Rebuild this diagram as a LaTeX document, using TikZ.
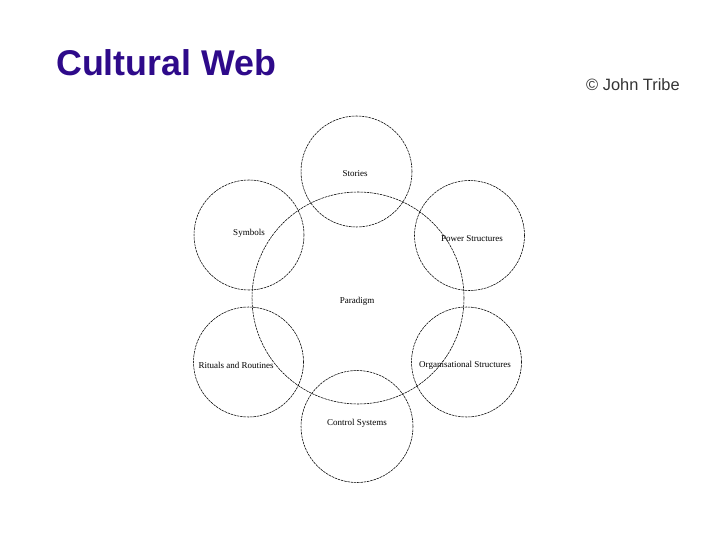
\documentclass[tikz,border=0pt]{standalone}
\usepackage{fontspec}
\setmainfont{Liberation Serif}
\newfontfamily\arialfont{Liberation Sans}
\definecolor{titleblue}{HTML}{2E0A8A}
\definecolor{credgray}{HTML}{333333}
\begin{document}
\begin{tikzpicture}[x=1pt,y=-1pt,
  ring/.style={draw=black,line width=0.55pt,dash pattern=on 2.5pt off 0.8pt},
  lbl/.style={font=\fontsize{9}{10}\selectfont,inner sep=0pt}]
\useasboundingbox (0,0) rectangle (720,540);
% title and credit
\node[anchor=base west,inner sep=0pt,text=titleblue,font=\arialfont\bfseries\fontsize{35.8}{38}\selectfont] (title) at (56,76) {Cultural Web};
\node[anchor=base west,inner sep=0pt,text=credgray,font=\arialfont\fontsize{16.4}{18}\selectfont] (credit) at (586,91) {\textcopyright\ John Tribe};
% circles
\node[ring,circle,minimum size=212pt,inner sep=0pt] (paradigm) at (358,298) {};
\node[ring,circle,minimum size=111pt,inner sep=0pt] (stories) at (356.5,171.5) {};
\node[ring,circle,minimum size=110pt,inner sep=0pt] (symbols) at (249,235) {};
\node[ring,circle,minimum size=110pt,inner sep=0pt] (power) at (469.5,235.5) {};
\node[ring,circle,minimum size=110pt,inner sep=0pt] (rituals) at (248.5,362) {};
\node[ring,circle,minimum size=110pt,inner sep=0pt] (org) at (466.5,362) {};
\node[ring,circle,minimum size=112pt,inner sep=0pt] (control) at (357,426.5) {};
% labels
\node[lbl] (tstories) at (355,174) {Stories};
\node[lbl] (tsymbols) at (249,233) {Symbols};
\node[lbl] (tpower) at (472,239) {Power Structures};
\node[lbl] (tparadigm) at (357,301) {Paradigm};
\node[lbl] (trituals) at (236,365) {Rituals and Routines};
\node[lbl] (torg) at (465,365) {Organisational Structures};
\node[lbl] (tcontrol) at (357,423) {Control Systems};
\end{tikzpicture}
\end{document}
